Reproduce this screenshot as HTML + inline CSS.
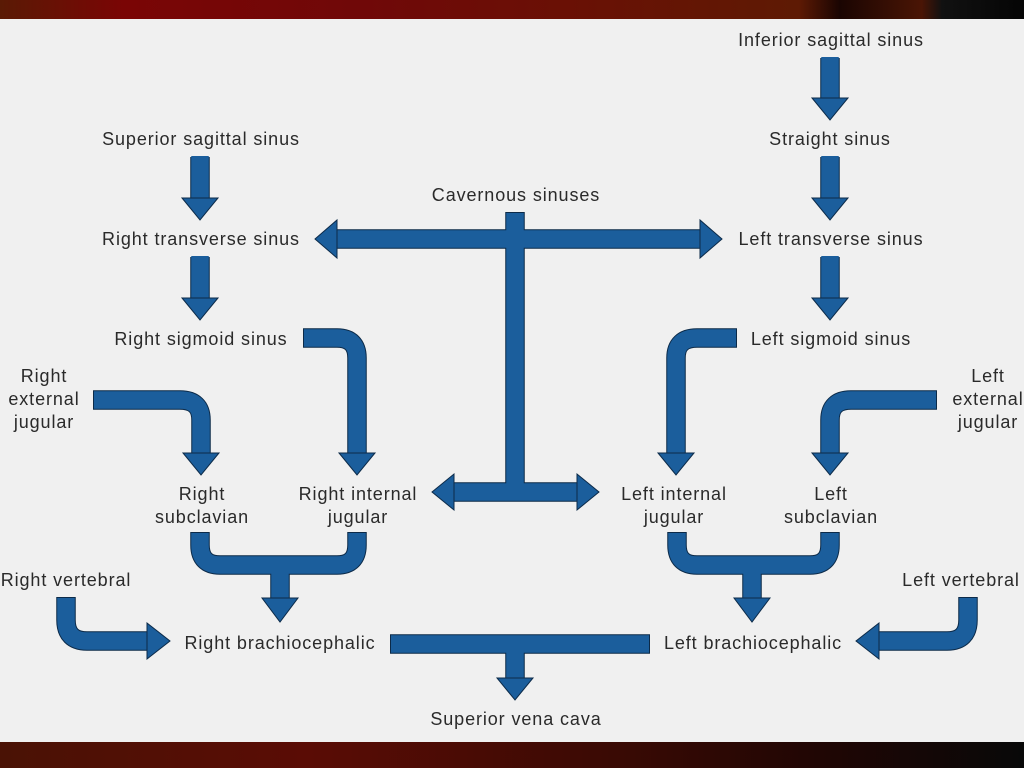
<!DOCTYPE html>
<html><head><meta charset="utf-8"><style>
html,body{margin:0;padding:0;background:#f0f0f0;}
svg{display:block}
text{font-family:"Liberation Sans",sans-serif;font-size:18px;letter-spacing:0.9px;fill:#2a2a2a;}
</style></head><body>
<svg width="1024" height="768" viewBox="0 0 1024 768" xmlns="http://www.w3.org/2000/svg">
<defs>
<linearGradient id="tb" x1="0" x2="1" y1="0" y2="0">
<stop offset="0" stop-color="#5a1a05"/><stop offset="0.12" stop-color="#7a0505"/><stop offset="0.35" stop-color="#700808"/><stop offset="0.55" stop-color="#6a1005"/><stop offset="0.78" stop-color="#5e1a04"/><stop offset="0.82" stop-color="#1a0502"/><stop offset="0.9" stop-color="#4a1505"/><stop offset="0.92" stop-color="#111"/><stop offset="1" stop-color="#050505"/>
</linearGradient>
<linearGradient id="bb" x1="0" x2="1" y1="0" y2="0">
<stop offset="0" stop-color="#4a1205"/><stop offset="0.3" stop-color="#5a0c05"/><stop offset="0.6" stop-color="#3a0a04"/><stop offset="0.8" stop-color="#200604"/><stop offset="1" stop-color="#080808"/>
</linearGradient>
</defs>
<rect x="0" y="0" width="1024" height="19" fill="url(#tb)"/>
<rect x="0" y="742" width="1024" height="26" fill="url(#bb)"/>

<g fill="none" stroke="#0c2a48" stroke-width="19.5">
<path d="M200 157V200M200 257V300M830 58V100M830 157V200M830 257V300"/>
<path d="M336 239H700M515 212V492M452 492H578"/>
<path d="M303 338H337Q357 338 357 358V455"/>
<path d="M93 400H180Q201 400 201 420V455"/>
<path d="M737 338H697Q676 338 676 358V455"/>
<path d="M937 400H851Q830 400 830 420V455"/>
<path d="M200 532V545Q200 565 220 565H337Q357 565 357 545V532M280 565V600"/>
<path d="M677 532V545Q677 565 697 565H810Q830 565 830 545V532M752 565V600"/>
<path d="M66 597V620Q66 641 87 641H148"/>
<path d="M968 597V620Q968 641 947 641H878"/>
<path d="M390 644H650M515 644V680"/>
</g>
<g fill="none" stroke="#1b5e9c" stroke-width="17.5">
<path d="M200 156V201M200 256V301M830 57V101M830 156V201M830 256V301"/>
<path d="M335 239H701M515 213V492M451 492H579"/>
<path d="M304 338H337Q357 338 357 358V456"/>
<path d="M94 400H180Q201 400 201 420V456"/>
<path d="M736 338H697Q676 338 676 358V456"/>
<path d="M936 400H851Q830 400 830 420V456"/>
<path d="M200 533V545Q200 565 220 565H337Q357 565 357 545V533M280 565V601"/>
<path d="M677 533V545Q677 565 697 565H810Q830 565 830 545V533M752 565V601"/>
<path d="M66 598V620Q66 641 87 641H149"/>
<path d="M968 598V620Q968 641 947 641H877"/>
<path d="M391 644H649M515 644V681"/>
</g>
<g fill="#1b5e9c" stroke="#0c2a48" stroke-width="1">
<polygon points="182,198 218,198 200,220"/>
<polygon points="182,298 218,298 200,320"/>
<polygon points="812,98 848,98 830,120"/>
<polygon points="812,198 848,198 830,220"/>
<polygon points="812,298 848,298 830,320"/>
<polygon points="339,453 375,453 357,475"/>
<polygon points="183,453 219,453 201,475"/>
<polygon points="658,453 694,453 676,475"/>
<polygon points="812,453 848,453 830,475"/>
<polygon points="262,598 298,598 280,622"/>
<polygon points="734,598 770,598 752,622"/>
<polygon points="497,678 533,678 515,700"/>
<polygon points="337,220 337,258 315,239"/>
<polygon points="700,220 700,258 722,239"/>
<polygon points="454,474 454,510 432,492"/>
<polygon points="577,474 577,510 599,492"/>
<polygon points="147,623 147,659 170,641"/>
<polygon points="879,623 879,659 856,641"/>
</g>

<g>
<text x="831" y="46" text-anchor="middle">Inferior sagittal sinus</text>
<text x="201" y="145" text-anchor="middle">Superior sagittal sinus</text>
<text x="830" y="145" text-anchor="middle">Straight sinus</text>
<text x="516" y="201" text-anchor="middle">Cavernous sinuses</text>
<text x="201" y="245" text-anchor="middle">Right transverse sinus</text>
<text x="831" y="245" text-anchor="middle">Left transverse sinus</text>
<text x="201" y="345" text-anchor="middle">Right sigmoid sinus</text>
<text x="831" y="345" text-anchor="middle">Left sigmoid sinus</text>
<text x="44" y="382" text-anchor="middle">Right</text>
<text x="44" y="405" text-anchor="middle">external</text>
<text x="44" y="428" text-anchor="middle">jugular</text>
<text x="988" y="382" text-anchor="middle">Left</text>
<text x="988" y="405" text-anchor="middle">external</text>
<text x="988" y="428" text-anchor="middle">jugular</text>
<text x="202" y="500" text-anchor="middle">Right</text>
<text x="202" y="523" text-anchor="middle">subclavian</text>
<text x="358" y="500" text-anchor="middle">Right internal</text>
<text x="358" y="523" text-anchor="middle">jugular</text>
<text x="674" y="500" text-anchor="middle">Left internal</text>
<text x="674" y="523" text-anchor="middle">jugular</text>
<text x="831" y="500" text-anchor="middle">Left</text>
<text x="831" y="523" text-anchor="middle">subclavian</text>
<text x="66" y="586" text-anchor="middle">Right vertebral</text>
<text x="961" y="586" text-anchor="middle">Left vertebral</text>
<text x="280" y="649" text-anchor="middle">Right brachiocephalic</text>
<text x="753" y="649" text-anchor="middle">Left brachiocephalic</text>
<text x="516" y="725" text-anchor="middle">Superior vena cava</text>
</g>
</svg>
</body></html>
